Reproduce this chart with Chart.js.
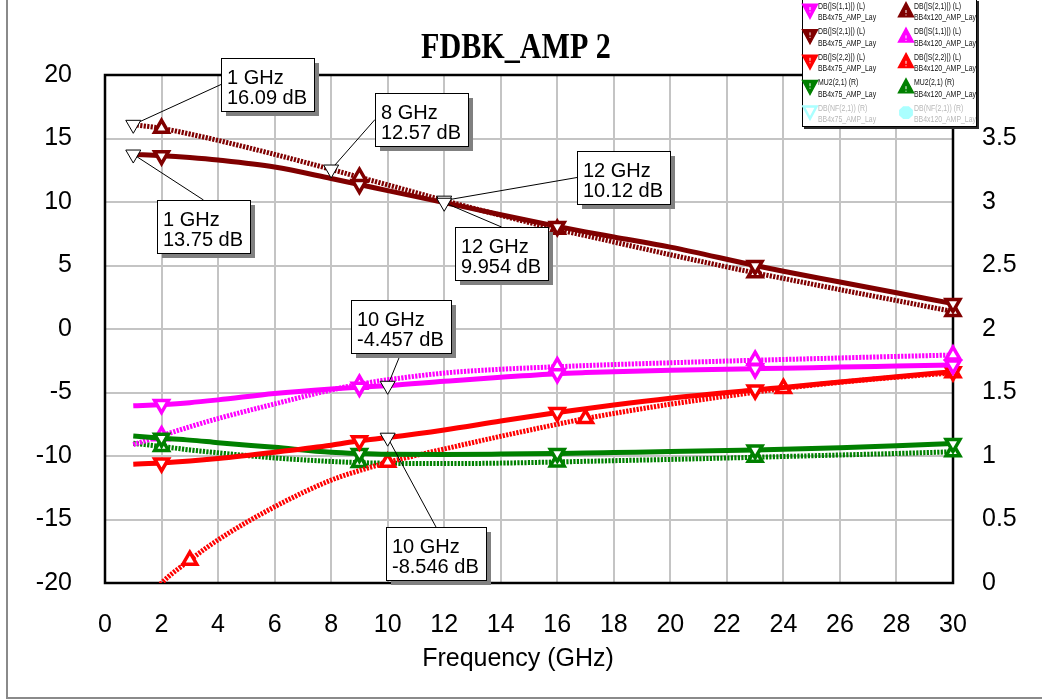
<!DOCTYPE html>
<html>
<head>
<meta charset="utf-8">
<title>FDBK_AMP 2</title>
<script src="https://cdn.jsdelivr.net/npm/chart.js@4.4.1/dist/chart.umd.min.js"></script>
<style>
  html, body { margin: 0; padding: 0; background: #fff; }
  #wrap { position: relative; width: 1042px; height: 700px; }
</style>
</head>
<body>
<div id="wrap"><canvas id="chart" width="1042" height="700"></canvas></div>
<script>
// Sweep frequencies (GHz) shared by every trace
const freqGHz = [1, 2, 3, 4, 6, 8, 9, 10, 12, 14, 16, 17, 18, 20, 23, 24, 26, 28, 30];

// BB4x75_AMP_Lay traces (solid)
const s11_BB4x75 = [-6.05, -5.95, -5.8, -5.58, -5.08, -4.72, -4.58, -4.457, -4.12, -3.8, -3.52, -3.43, -3.36, -3.25, -3.13, -3.09, -3.0, -2.92, -2.84];
const s21_BB4x75 = [13.75, 13.65, 13.5, 13.3, 12.75, 11.85, 11.38, 10.9, 9.954, 9.0, 8.08, 7.65, 7.25, 6.45, 5.0, 4.55, 3.7, 2.85, 2.0];
const s22_BB4x75 = [-10.64, -10.55, -10.4, -10.2, -9.7, -9.15, -8.8, -8.546, -7.95, -7.25, -6.58, -6.28, -5.98, -5.45, -4.8, -4.6, -4.18, -3.76, -3.36];
const mu2_BB4x75 = [1.157, 1.14, 1.125, 1.105, 1.068, 1.03, 1.02, 1.014, 1.012, 1.015, 1.02, 1.023, 1.027, 1.035, 1.048, 1.053, 1.065, 1.08, 1.098];
const nf_BB4x75 = [];

// BB4x120_AMP_Lay traces (hatched)
const s21_BB4x120 = [16.09, 15.8, 15.35, 14.85, 13.75, 12.57, 11.95, 11.35, 10.12, 8.95, 7.85, 7.35, 6.85, 5.85, 4.42, 3.98, 3.1, 2.24, 1.38];
const s11_BB4x120 = [-9.1, -8.4, -7.7, -7.05, -5.9, -4.8, -4.35, -4.0, -3.47, -3.17, -2.97, -2.88, -2.8, -2.66, -2.46, -2.4, -2.28, -2.16, -2.05];
const s22_BB4x120 = [-22.6, -20.0, -18.2, -16.6, -14.0, -11.9, -11.15, -10.5, -9.45, -8.45, -7.5, -7.05, -6.65, -5.92, -4.98, -4.68, -4.2, -3.8, -3.45];
const mu2_BB4x120 = [1.1, 1.075, 1.048, 1.025, 0.985, 0.957, 0.948, 0.943, 0.94, 0.944, 0.953, 0.958, 0.963, 0.973, 0.99, 0.996, 1.008, 1.02, 1.033];
const nf_BB4x120 = [];

// Frequencies carrying a trace symbol
const symbolFreqs = [2, 9, 16, 23, 30];
const symbolFreqsS22b = [3, 10, 17, 24, 30];

// Tick values
const xTickValues = [0, 2, 4, 6, 8, 10, 12, 14, 16, 18, 20, 22, 24, 26, 28, 30];
const leftTickValues = [-20, -15, -10, -5, 0, 5, 10, 15, 20];
const rightTickValues = [0, 0.5, 1, 1.5, 2, 2.5, 3, 3.5];

// Marker read-outs: trace, frequency, box offset from the marker (px) and the box side the leader meets
const readouts = [
  { key: 's21b', f: 1,  dx: 88,  dy: -67, side: 'left' },
  { key: 's21a', f: 1,  dx: 24,  dy: 46,  side: 'top' },
  { key: 's21b', f: 8,  dx: 44,  dy: -76, side: 'left' },
  { key: 's21b', f: 12, dx: 133, dy: -49, side: 'left' },
  { key: 's21a', f: 12, dx: 11,  dy: 24,  side: 'top' },
  { key: 's11a', f: 10, dx: -37, dy: -86, side: 'bottom' },
  { key: 's22a', f: 10, dx: -2,  dy: 89,  side: 'top' }
];

const MAGENTA = '#ff00ff', DARKRED = '#800000', RED = '#ff0000', GREEN = '#008000', CYAN = '#aaffff';
const SANS = '"Liberation Sans", Arial, Helvetica, sans-serif';

function pts(vals) { return vals.map((v, i) => ({ x: freqGHz[i], y: v })); }
function radii(marks) { return freqGHz.map(f => marks.includes(f) ? 8 : 0); }

function trace(key, label, design, vals, color, axis, hatched, marks, up) {
  return {
    key, label, design, legendColor: color, up,
    data: pts(vals),
    yAxisID: axis,
    borderColor: color,
    borderWidth: 5,
    borderDash: hatched ? [2.2, 1.3] : [],
    borderCapStyle: 'butt',
    cubicInterpolationMode: 'monotone',
    fill: false,
    pointStyle: 'triangle',
    pointRotation: up ? 0 : 180,
    pointRadius: radii(marks),
    pointBorderWidth: 3.5,
    pointBorderColor: color,
    pointBackgroundColor: '#ffffff',
    clip: { left: 0, top: 0, right: 14, bottom: 0 }
  };
}

const datasets = [
  trace('s11a', 'DB(|S(1,1)|) (L)', 'BB4x75_AMP_Lay', s11_BB4x75, MAGENTA, 'y', false, symbolFreqs, false),
  trace('s21a', 'DB(|S(2,1)|) (L)', 'BB4x75_AMP_Lay', s21_BB4x75, DARKRED, 'y', false, symbolFreqs, false),
  trace('s22a', 'DB(|S(2,2)|) (L)', 'BB4x75_AMP_Lay', s22_BB4x75, RED, 'y', false, symbolFreqs, false),
  trace('mu2a', 'MU2(2,1) (R)', 'BB4x75_AMP_Lay', mu2_BB4x75, GREEN, 'y1', false, symbolFreqs, false),
  trace('nfa', 'DB(NF(2,1)) (R)', 'BB4x75_AMP_Lay', nf_BB4x75, CYAN, 'y1', false, symbolFreqs, false),
  trace('s21b', 'DB(|S(2,1)|) (L)', 'BB4x120_AMP_Lay', s21_BB4x120, DARKRED, 'y', true, symbolFreqs, true),
  trace('s11b', 'DB(|S(1,1)|) (L)', 'BB4x120_AMP_Lay', s11_BB4x120, MAGENTA, 'y', true, symbolFreqs, true),
  trace('s22b', 'DB(|S(2,2)|) (L)', 'BB4x120_AMP_Lay', s22_BB4x120, RED, 'y', true, symbolFreqsS22b, true),
  trace('mu2b', 'MU2(2,1) (R)', 'BB4x120_AMP_Lay', mu2_BB4x120, GREEN, 'y1', true, symbolFreqs, true),
  trace('nfb', 'DB(NF(2,1)) (R)', 'BB4x120_AMP_Lay', nf_BB4x120, CYAN, 'y1', true, symbolFreqs, true)
];
// NF traces have no points in view: their legend entries are greyed
datasets.forEach(d => { d.dimmed = d.data.length === 0; });

// Page frame, grid, plot border and title
const framePlugin = {
  id: 'frame',
  beforeDraw(chart) {
    const ctx = chart.ctx;
    ctx.save();
    ctx.fillStyle = '#fff';
    ctx.fillRect(0, 0, chart.width, chart.height);
    ctx.strokeStyle = '#8a8a8a';
    ctx.lineWidth = 2;
    ctx.beginPath();
    ctx.moveTo(7, 0); ctx.lineTo(7, 698); ctx.lineTo(chart.width, 698);
    ctx.stroke();
    ctx.restore();
  },
  beforeDatasetsDraw(chart) {
    const { left, top, right, bottom } = chart.chartArea;
    const ctx = chart.ctx;
    const xs = chart.scales.x, ys = chart.scales.y;
    ctx.save();
    ctx.strokeStyle = '#c4c4c4';
    ctx.lineWidth = 2;
    ctx.beginPath();
    xs.ticks.forEach(t => {
      const px = Math.round(xs.getPixelForValue(t.value));
      ctx.moveTo(px, top); ctx.lineTo(px, bottom);
    });
    ys.ticks.forEach(t => {
      const py = Math.round(ys.getPixelForValue(t.value));
      ctx.moveTo(left, py); ctx.lineTo(right, py);
    });
    ctx.stroke();
    ctx.strokeStyle = '#000';
    ctx.lineWidth = 2.5;
    ctx.strokeRect(left, top, right - left, bottom - top);
    ctx.restore();
  },
  afterDraw(chart) {
    const ctx = chart.ctx;
    ctx.save();
    ctx.fillStyle = '#000';
    ctx.textAlign = 'center';
    ctx.textBaseline = 'alphabetic';
    ctx.translate(516, 58);
    ctx.scale(0.86, 1);
    ctx.font = 'bold 35px "Liberation Serif", "Times New Roman", serif';
    ctx.fillText('FDBK_AMP 2', 0, 0);
    ctx.restore();

    ctx.save();
    ctx.fillStyle = '#000';
    ctx.font = '25px ' + SANS;
    ctx.textAlign = 'center';
    ctx.textBaseline = 'middle';
    ctx.fillText('Frequency (GHz)', 518, 659);
    ctx.restore();
  }
};

function triangle(ctx, cx, cy, w, h, up) {
  // centroid at (cx, cy)
  ctx.beginPath();
  if (up) {
    ctx.moveTo(cx, cy - 2 * h / 3);
    ctx.lineTo(cx + w / 2, cy + h / 3);
    ctx.lineTo(cx - w / 2, cy + h / 3);
  } else {
    ctx.moveTo(cx - w / 2, cy - h / 3);
    ctx.lineTo(cx + w / 2, cy - h / 3);
    ctx.lineTo(cx, cy + 2 * h / 3);
  }
  ctx.closePath();
}

// Marker read-out boxes with leaders
const readoutPlugin = {
  id: 'readouts',
  afterDraw(chart) {
    const ctx = chart.ctx;
    const xs = chart.scales.x;
    ctx.save();
    ctx.font = '20px ' + SANS;
    for (const r of readouts) {
      const ds = chart.data.datasets.find(d => d.key === r.key);
      const pt = ds.data.find(p => p.x === r.f);
      const ys = chart.scales[ds.yAxisID];
      const px = xs.getPixelForValue(pt.x);
      const py = ys.getPixelForValue(pt.y);
      const lines = [pt.x + ' GHz', Number(pt.y).toPrecision(4) + ' dB'];
      const w = Math.round(Math.max(...lines.map(t => ctx.measureText(t).width)) + 13);
      const h = 53;
      const bx = Math.round(px + r.dx), by = Math.round(py + r.dy);
      let ax, ay;
      if (r.side === 'left') { ax = bx; ay = by + h / 2; }
      else if (r.side === 'top') { ax = bx + w / 2; ay = by; }
      else { ax = bx + w / 2; ay = by + h; }

      ctx.strokeStyle = '#000';
      ctx.lineWidth = 1;
      ctx.beginPath();
      ctx.moveTo(px, py); ctx.lineTo(ax, ay);
      ctx.stroke();

      ctx.fillStyle = '#808080';
      ctx.fillRect(bx + 5, by + 5, w, h);
      ctx.fillStyle = '#fff';
      ctx.fillRect(bx, by, w, h);
      ctx.strokeRect(bx + 0.5, by + 0.5, w, h);

      ctx.fillStyle = '#000';
      ctx.textAlign = 'left';
      ctx.textBaseline = 'alphabetic';
      ctx.fillText(lines[0], bx + 6, by + 26);
      ctx.fillText(lines[1], bx + 6, by + 46);

      triangle(ctx, px, py, 15, 13, false);
      ctx.fillStyle = '#fff';
      ctx.fill();
      ctx.stroke();
    }
    ctx.restore();
  }
};

// Trace legend box in the top-right corner
const legendPlugin = {
  id: 'traceLegend',
  afterDraw(chart) {
    const ctx = chart.ctx;
    const box = { x: 802, y: -1, w: 175, h: 128 };
    ctx.save();
    ctx.fillStyle = '#2a2a2a';
    ctx.fillRect(box.x + 2, box.y + 2, box.w, box.h);
    ctx.fillStyle = '#fff';
    ctx.fillRect(box.x, box.y, box.w, box.h);
    ctx.strokeStyle = '#000';
    ctx.lineWidth = 1;
    ctx.strokeRect(box.x + 0.5, box.y + 0.5, box.w - 1, box.h - 1);

    const colMarker = [810, 906], colText = [818, 914];
    chart.data.datasets.forEach((d, i) => {
      const col = i < 5 ? 0 : 1;
      const row = i % 5;
      const cy = 11 + row * 25.4;
      const mx = colMarker[col];
      ctx.lineWidth = 2;
      if (d.dimmed && d.up) {
        // filled octagon
        ctx.beginPath();
        for (let k = 0; k < 8; k++) {
          const a = Math.PI / 8 + k * Math.PI / 4;
          const X = mx + 7.5 * Math.cos(a), Y = cy + 7 * Math.sin(a);
          k === 0 ? ctx.moveTo(X, Y) : ctx.lineTo(X, Y);
        }
        ctx.closePath();
        ctx.fillStyle = d.legendColor;
        ctx.fill();
      } else if (d.dimmed) {
        triangle(ctx, mx, cy - 2, 13, 12, false);
        ctx.fillStyle = '#fff';
        ctx.fill();
        ctx.strokeStyle = d.legendColor;
        ctx.lineWidth = 2.5;
        ctx.stroke();
      } else {
        triangle(ctx, mx, d.up ? cy + 1 : cy - 2, 15, 14, d.up);
        ctx.fillStyle = d.legendColor;
        ctx.fill();
        ctx.strokeStyle = d.legendColor;
        ctx.lineWidth = 1.5;
        ctx.stroke();
        // small white mark inside the symbol
        ctx.strokeStyle = '#fff';
        ctx.lineWidth = 1;
        ctx.beginPath();
        if (d.up) { ctx.moveTo(mx, cy - 1); ctx.lineTo(mx, cy + 2); ctx.moveTo(mx, cy + 3.5); ctx.lineTo(mx, cy + 4.5); }
        else { ctx.moveTo(mx, cy - 4); ctx.lineTo(mx, cy - 1); ctx.moveTo(mx, cy + 0.5); ctx.lineTo(mx, cy + 1.5); }
        ctx.stroke();
      }

      ctx.fillStyle = d.dimmed ? '#b8b8b8' : '#111';
      ctx.font = '9px ' + SANS;
      ctx.textAlign = 'left';
      ctx.textBaseline = 'middle';
      [[d.label, cy - 4.5], [d.design, cy + 7]].forEach(([t, ty]) => {
        ctx.save();
        ctx.translate(colText[col], ty);
        ctx.scale(0.77, 1);
        ctx.fillText(t, 0, 0);
        ctx.restore();
      });
    });
    ctx.restore();
  }
};

const tickFont = { family: SANS, size: 25 };

new Chart(document.getElementById('chart'), {
  type: 'line',
  data: { datasets },
  options: {
    responsive: false,
    devicePixelRatio: 1,
    animation: false,
    events: [],
    layout: { padding: { top: 75, left: 0, right: 0, bottom: 0 } },
    plugins: { legend: { display: false }, tooltip: { enabled: false }, title: { display: false } },
    scales: {
      x: {
        type: 'linear', position: 'bottom', min: 0, max: 30,
        afterBuildTicks(s) { s.ticks = xTickValues.map(v => ({ value: v })); },
        ticks: { font: tickFont, color: '#000', padding: 27, maxRotation: 0, autoSkip: false, callback: v => String(v) },
        grid: { display: false, drawTicks: false },
        border: { display: false },
        afterFit(s) { s.height = 117; }
      },
      y: {
        type: 'linear', position: 'left', min: -20, max: 20,
        afterBuildTicks(s) { s.ticks = leftTickValues.map(v => ({ value: v })); },
        ticks: { font: tickFont, color: '#000', padding: 33, callback: v => String(v) },
        grid: { display: false, drawTicks: false },
        border: { display: false },
        afterFit(s) { s.width = 105; }
      },
      y1: {
        type: 'linear', position: 'right', min: 0, max: 4,
        afterBuildTicks(s) { s.ticks = rightTickValues.map(v => ({ value: v })); },
        ticks: { font: tickFont, color: '#000', padding: 29, callback: v => String(v) },
        grid: { display: false, drawTicks: false },
        border: { display: false },
        afterFit(s) { s.width = 89; }
      }
    }
  },
  plugins: [framePlugin, readoutPlugin, legendPlugin]
});
</script>
</body>
</html>
